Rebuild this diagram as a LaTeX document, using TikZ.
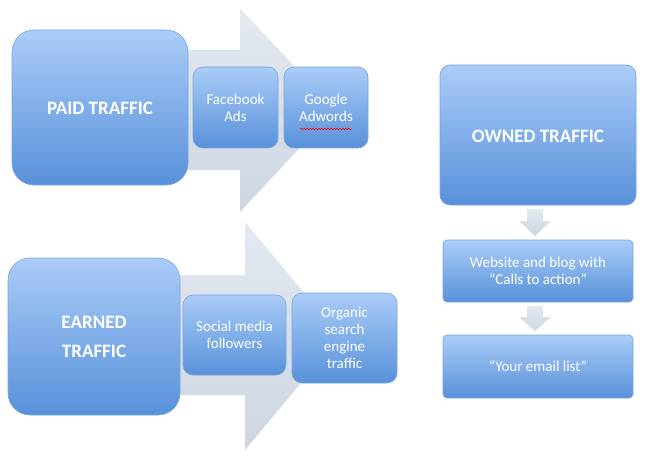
\documentclass[tikz,border=0pt]{standalone}
\usepackage{fontspec}
\setmainfont{Carlito}
\usetikzlibrary{decorations.pathmorphing}
\definecolor{btop}{RGB}{170,204,248}
\definecolor{bbot}{RGB}{88,145,218}
\definecolor{bdraw}{RGB}{120,165,225}
\definecolor{atop}{RGB}{228,233,240}
\definecolor{abot}{RGB}{205,214,226}
\begin{document}
\begin{tikzpicture}[x=1pt,y=-1pt,
 bx/.style={rounded corners=#1,top color=btop,bottom color=bbot,draw=bdraw,line width=0.6pt},
 lbl/.style={text=white,align=center,font=\fontsize{15}{17}\selectfont},
 big/.style={text=white,align=center,font=\bfseries\fontsize{19}{23}\selectfont},
 arr/.style={top color=atop,bottom color=abot,draw=none}]
\useasboundingbox (0,0) rectangle (652,457);
% big arrows
\path[arr] (185,50) -- (240,50) -- (240,8) -- (335,110) -- (240,212) -- (240,170) -- (185,170) -- cycle;
\path[arr] (180,275) -- (245,275) -- (245,222) -- (340,336) -- (245,450) -- (245,395) -- (180,395) -- cycle;
% boxes
\path[bx=22] (12,30) rectangle (188,185);
\node[big] (paid) at (100,108) {PAID TRAFFIC};
\path[bx=10] (193,67) rectangle (278,148);
\node[lbl] (fb) at (235.5,107.5) {Facebook\\Ads};
\path[bx=10] (284,67) rectangle (368,148);
\node[lbl] (gg) at (326,107.5) {Google\\Adwords};
\draw[red,line width=0.5pt,decorate,decoration={snake,amplitude=0.8pt,segment length=3pt}] (300,129) -- (352,129);
\path[bx=22] (8,258) rectangle (180,415);
\node[big] (earned) at (94,337) {EARNED\\[6pt]TRAFFIC};
\path[bx=10] (183,295) rectangle (286,375);
\node[lbl] (sm) at (234.5,335) {Social media\\followers};
\path[bx=10] (292,293) rectangle (397,383);
\node[lbl] (org) at (344.5,338) {Organic\\search\\engine\\traffic};
\path[bx=10] (440,65) rectangle (636,205);
\node[big] (owned) at (538,136) {OWNED TRAFFIC};
\path[bx=4] (443,240) rectangle (633,302);
\node[lbl] (web) at (538,271) {Website and blog with\\“Calls to action”};
\path[bx=4] (443,335) rectangle (633,398);
\node[lbl] (mail) at (538,366.5) {“Your email list”};
% small arrows
\path[arr] (527,209) -- (543,209) -- (543,221) -- (551,221) -- (535,236) -- (519,221) -- (527,221) -- cycle;
\path[arr] (527,306) -- (543,306) -- (543,317) -- (551,317) -- (535,331) -- (519,317) -- (527,317) -- cycle;
\end{tikzpicture}
\end{document}
